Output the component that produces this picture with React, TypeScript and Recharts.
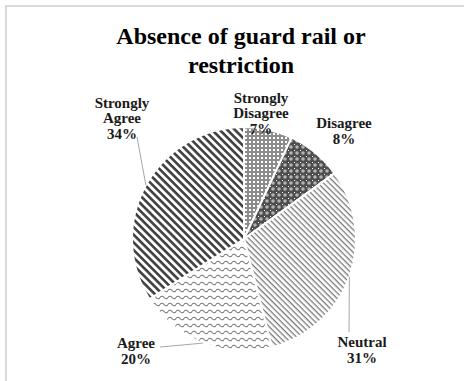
import { PieChart, Pie, Cell } from 'recharts';

const CATEGORIES = ['Strongly Disagree', 'Disagree', 'Neutral', 'Agree', 'Strongly Agree'];
const PERCENTS = [7, 8, 31, 20, 34];
const PATTERN_IDS = ['patSD', 'patD', 'patN', 'patA', 'patSA'];

// label block centre, relative to pie centre (Excel labels were dragged by hand)
const LABEL_OFFSETS = [
  [17, -126],
  [100, -108],
  [118, 111],
  [-108, 112],
  [-122, -121],
];
// where the leader line leaves the label, relative to the label centre
const LEADER_ANCHORS: (number[] | null)[] = [null, null, [-13, -18], [24, -4], [15, 19]];

const data = CATEGORIES.map((name, i) => ({ name, value: PERCENTS[i] }));

const FONT = "'Liberation Serif', 'Times New Roman', serif";
const RAD = Math.PI / 180;

const renderLabel = (props: any) => {
  const { cx, cy, midAngle, outerRadius, index, name, value } = props;
  const [dx, dy] = LABEL_OFFSETS[index];
  const lx = cx + dx;
  const ly = cy + dy;
  const lines = [...String(name).split(' '), `${value}%`];
  const step = 15.5;
  const anchor = LEADER_ANCHORS[index];
  let leader = null;
  if (anchor) {
    const ex = cx + outerRadius * Math.cos(-midAngle * RAD);
    const ey = cy + outerRadius * Math.sin(-midAngle * RAD);
    leader = (
      <line x1={lx + anchor[0]} y1={ly + anchor[1]} x2={ex} y2={ey} stroke="#a6a6a6" strokeWidth={1} />
    );
  }
  return (
    <g key={`lbl-${index}`}>
      {leader}
      {lines.map((t, i) => (
        <text
          key={i}
          x={lx}
          y={ly + (i - (lines.length - 1) / 2) * step}
          textAnchor="middle"
          dominantBaseline="central"
          fontFamily={FONT}
          fontWeight="bold"
          fontSize={15}
          fill="#1a1a1a"
        >
          {t}
        </text>
      ))}
    </g>
  );
};

export default function App() {
  return (
    <div style={{ position: 'absolute', left: 0, top: 0, width: 464, height: 381, overflow: 'hidden', background: '#fff' }}>
      <div
        style={{
          position: 'absolute',
          left: 5,
          top: 5,
          width: 700,
          height: 600,
          border: '2px solid #d9d9d9',
        }}
      />
      <div
        style={{
          position: 'absolute',
          left: 0,
          top: 22,
          width: 482,
          textAlign: 'center',
          fontFamily: FONT,
          fontWeight: 'bold',
          fontSize: 24,
          lineHeight: '29px',
          color: '#000',
        }}
      >
        Absence of guard rail or
        <br />
        restriction
      </div>
      <div style={{ position: 'absolute', left: 0, top: 0 }}>
        <PieChart width={464} height={381}>
          <defs>
            <pattern id="patSD" width={4} height={4} patternUnits="userSpaceOnUse">
              <rect width={4} height={4} fill="#8c8c8c" />
              <rect x={1} y={1} width={2} height={2} fill="#ffffff" />
            </pattern>
            <pattern id="patD" width={6} height={6} patternUnits="userSpaceOnUse">
              <rect width={6} height={6} fill="#4d4d4d" />
              <circle cx={3} cy={3} r={1.8} fill="#b3b3b3" />
              <rect x={0} y={0} width={1} height={1} fill="#ffffff" />
            </pattern>
            <pattern id="patN" width={4} height={4} patternUnits="userSpaceOnUse" patternTransform="rotate(45)">
              <rect width={4} height={4} fill="#ffffff" />
              <rect width={4} height={1.3} fill="#7a7a7a" />
            </pattern>
            <pattern id="patA" width={8} height={7} patternUnits="userSpaceOnUse">
              <rect width={8} height={7} fill="#ffffff" />
              <path d="M0 3.5 Q2 1 4 3.5 T8 3.5" stroke="#7a7a7a" strokeWidth={1.2} fill="none" />
            </pattern>
            <pattern id="patSA" width={5.4} height={5.4} patternUnits="userSpaceOnUse" patternTransform="rotate(45)">
              <rect width={5.4} height={5.4} fill="#ffffff" />
              <rect width={5.4} height={2.6} fill="#3f3f3f" />
            </pattern>
          </defs>
          <Pie
            data={data}
            dataKey="value"
            nameKey="name"
            cx={239}
            cy={234}
            outerRadius={112}
            startAngle={90}
            endAngle={-270}
            stroke="#ffffff"
            strokeWidth={2}
            label={renderLabel}
            labelLine={false}
            isAnimationActive={false}
          >
            {data.map((d, i) => (
              <Cell key={d.name} fill={`url(#${PATTERN_IDS[i]})`} />
            ))}
          </Pie>
        </PieChart>
      </div>
    </div>
  );
}
